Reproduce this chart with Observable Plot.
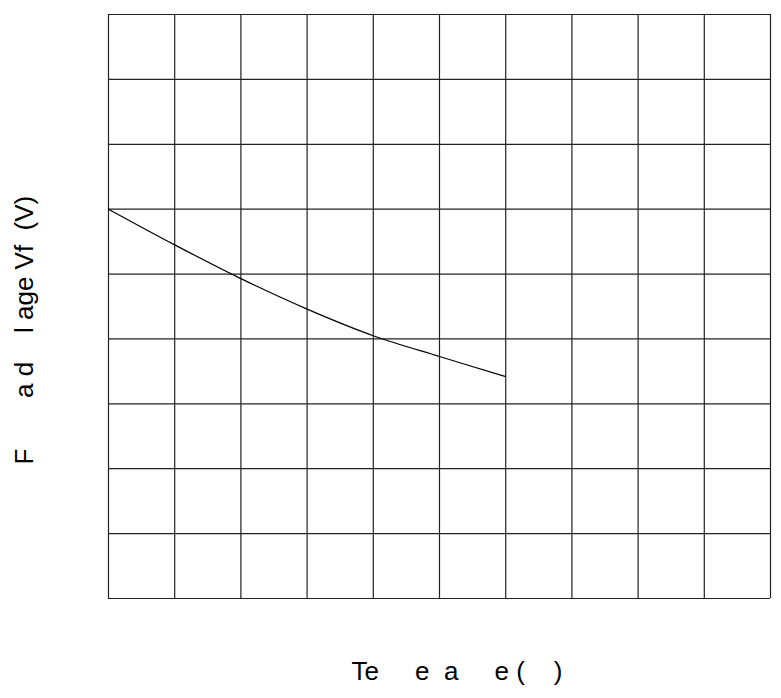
<!DOCTYPE html>
<html>
<head>
<meta charset="utf-8">
<script src="https://cdn.jsdelivr.net/npm/d3@7"></script>
<script src="https://cdn.jsdelivr.net/npm/@observablehq/plot@0.6"></script>
<style>
  html, body { margin: 0; padding: 0; background: #fff; }
  svg { display: block; }
</style>
</head>
<body>
<div id="chart"></div>
<script>
// Temperature (°C) and forward voltage Vf (V)
const temperature = [-40, -20, 0, 20, 40, 60, 80];
const forwardVoltage = [3.000, 2.945, 2.893, 2.846, 2.805, 2.773, 2.742];

// grid positions (no tick labels are shown in the reference)
const xGrid = [-40, -20, 0, 20, 40, 60, 80, 100, 120, 140, 160];
const yGrid = [2.4, 2.5, 2.6, 2.7, 2.8, 2.9, 3.0, 3.1, 3.2, 3.3];

// axis titles as they appear (some glyphs are missing in the reference)
const NB = "\u00A0";
const xTitle = "Te" + NB.repeat(5) + "e" + NB.repeat(2) + "a" + NB.repeat(5) + "e" + NB + "(" + NB.repeat(4) + ")";
const yTitle = "F" + NB.repeat(7) + "a" + NB + "d" + NB.repeat(4) + "l" + NB + "age" + NB + "Vf" + NB.repeat(2) + "(V)";

const data = temperature.map((t, i) => ({t, v: forwardVoltage[i]}));

const chart = Plot.plot({
  width: 781,
  height: 698,
  marginLeft: 108,
  marginRight: 11,
  marginTop: 14,
  marginBottom: 100,
  style: {fontFamily: "'Liberation Sans', Arial, sans-serif", background: "#fff"},
  x: {domain: [-40, 160], axis: null},
  y: {domain: [2.4, 3.3], axis: null},
  marks: [
    Plot.ruleX(xGrid, {stroke: "#222", strokeWidth: 1.2}),
    Plot.ruleY(yGrid, {stroke: "#222", strokeWidth: 1.2}),
    Plot.line(data, {x: "t", y: "v", stroke: "#000", strokeWidth: 1.2, curve: "catmull-rom"}),
    Plot.text([xTitle], {
      frameAnchor: "bottom", textAnchor: "start", lineAnchor: "middle",
      dx: -88, dy: 72.7, fontSize: 26, fill: "#000"
    }),
    Plot.text([yTitle], {
      frameAnchor: "left", textAnchor: "start", lineAnchor: "middle", rotate: -90,
      dx: -83.5, dy: 158, fontSize: 26, fill: "#000"
    })
  ]
});
document.getElementById("chart").appendChild(chart);
</script>
</body>
</html>
